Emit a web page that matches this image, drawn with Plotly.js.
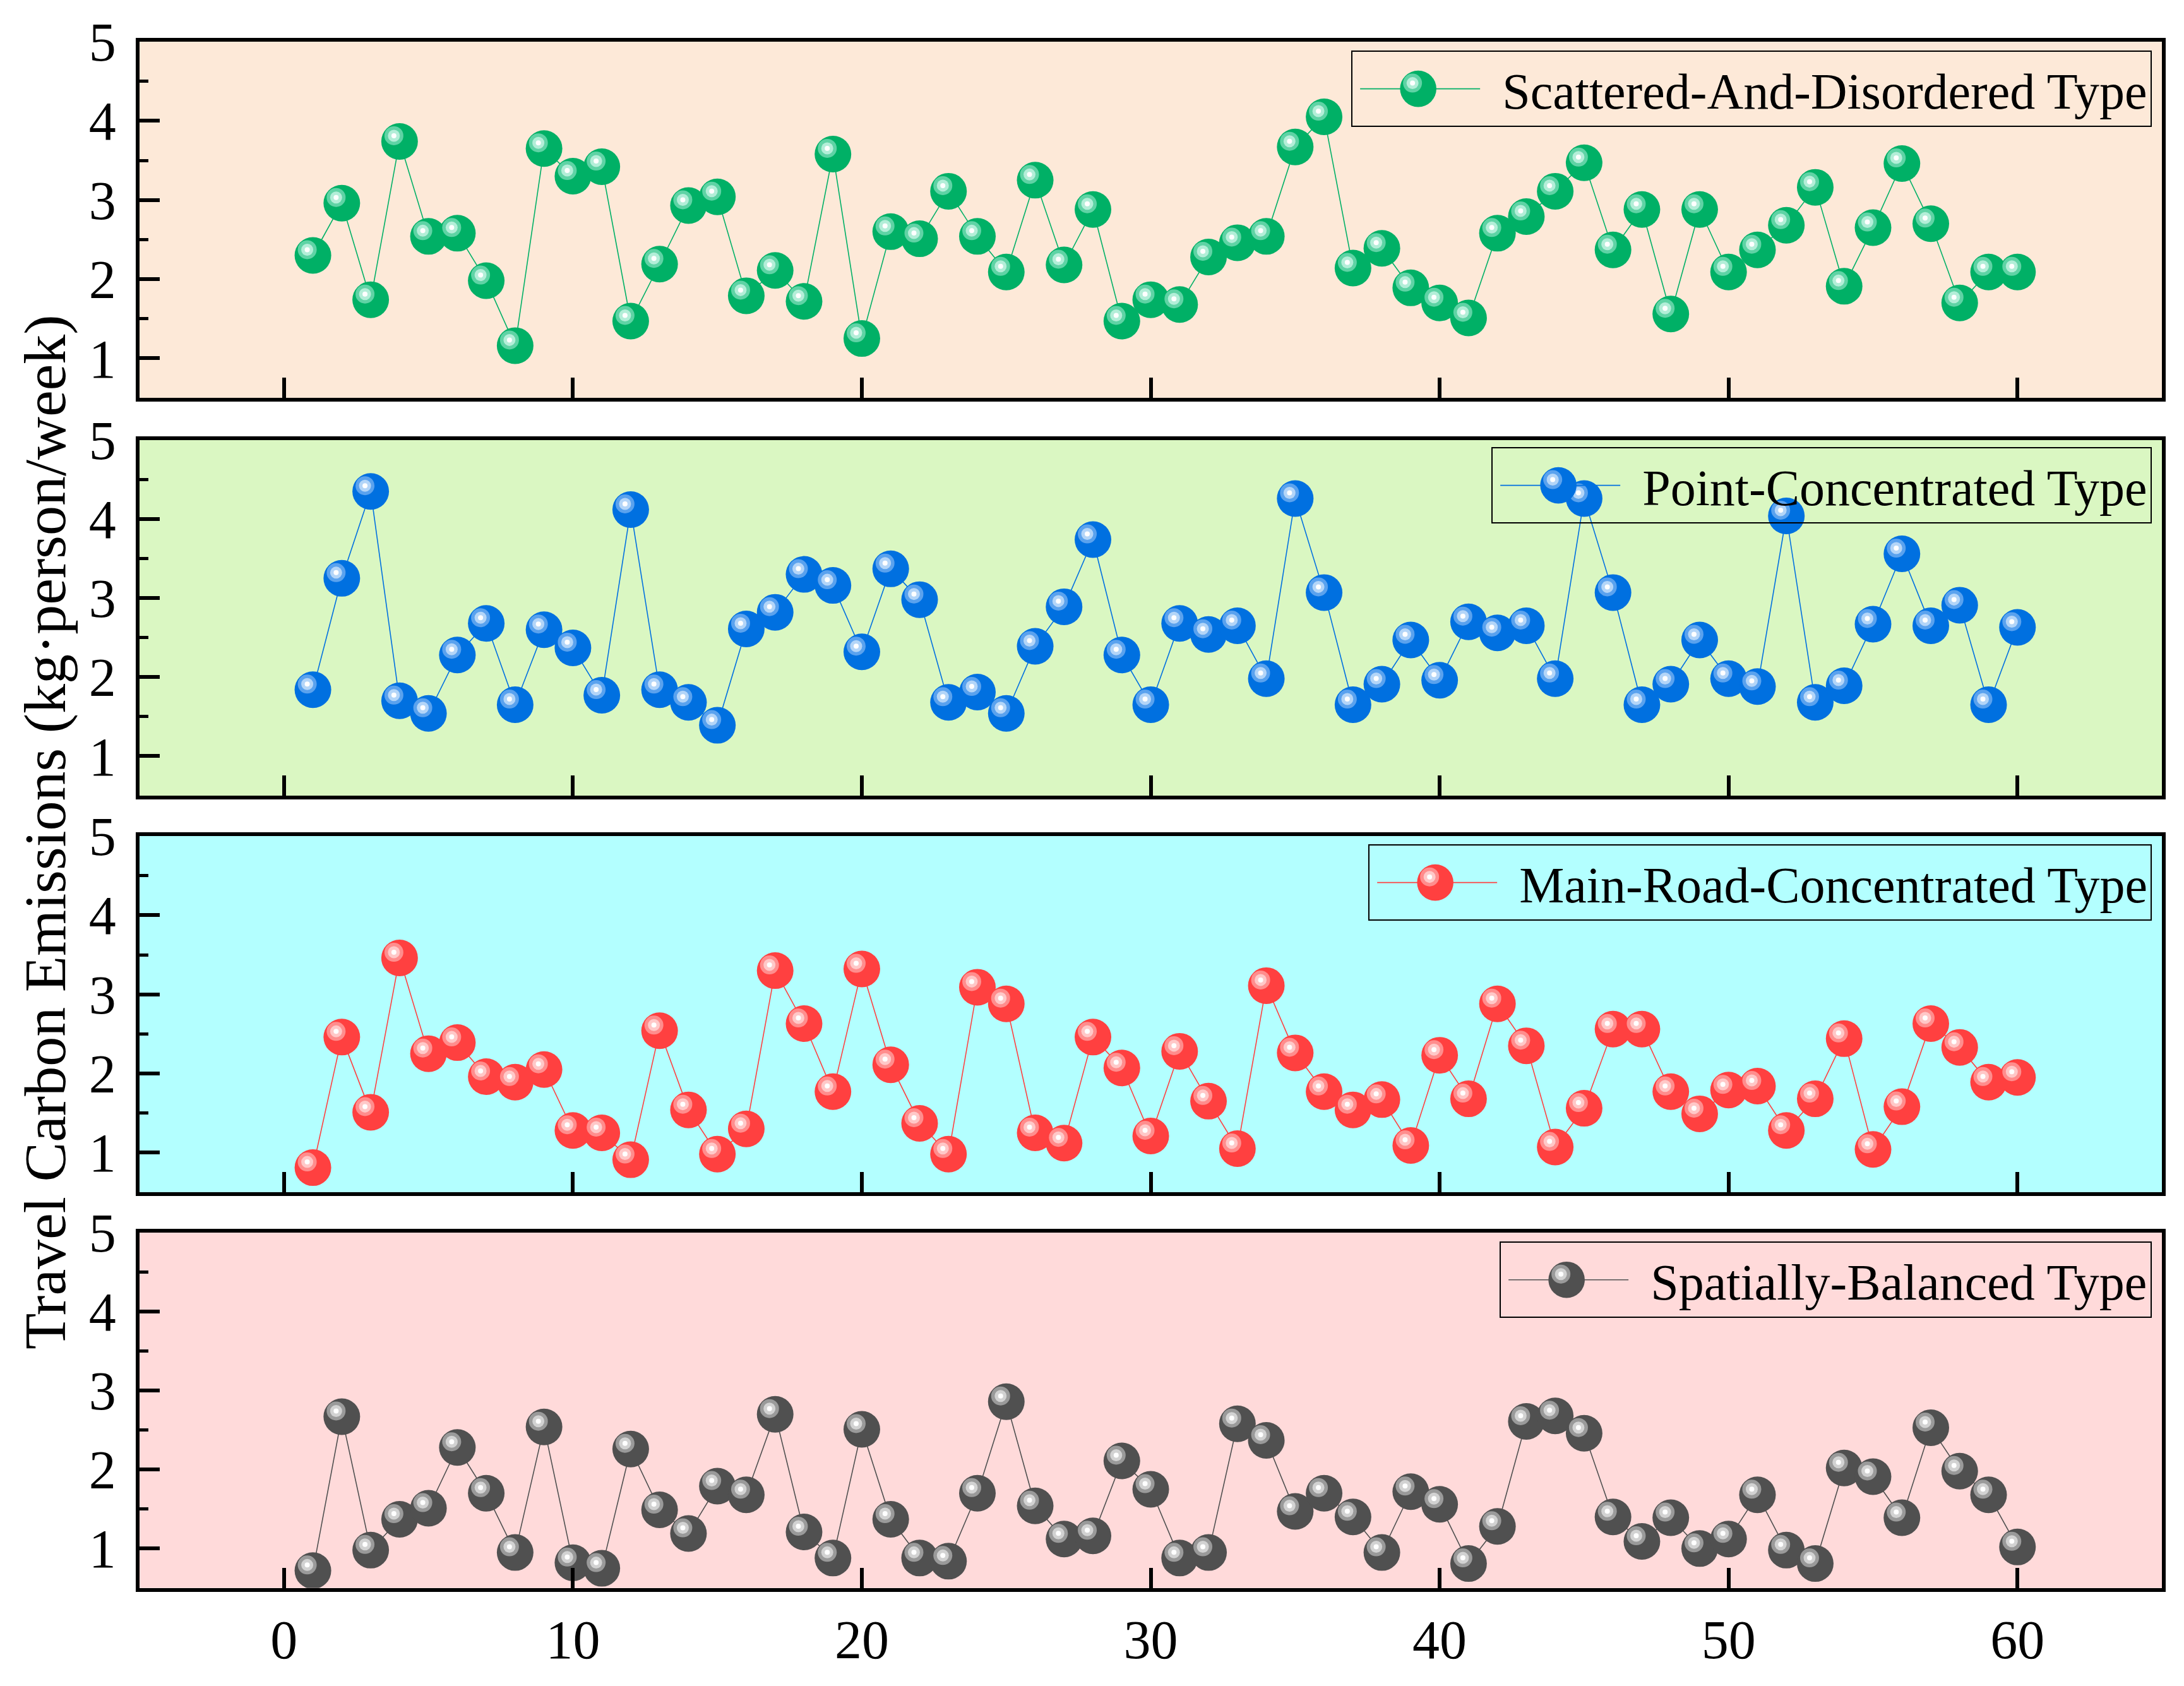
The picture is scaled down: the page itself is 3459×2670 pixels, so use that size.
<!DOCTYPE html>
<html>
<head>
<meta charset="utf-8">
<script src="https://cdn.plot.ly/plotly-3.0.1.min.js"></script>
<style>
  html, body { margin: 0; padding: 0; background: #ffffff; }
  #chart { width: 3459px; height: 2670px; }
</style>
</head>
<body>
<div id="chart"></div>
<script>
// week index
var weeks = [1,2,3,4,5,6,7,8,9,10,11,12,13,14,15,16,17,18,19,20,
             21,22,23,24,25,26,27,28,29,30,31,32,33,34,35,36,37,38,39,40,
             41,42,43,44,45,46,47,48,49,50,51,52,53,54,55,56,57,58,59,60];

var scattered = [2.30,2.96,1.74,3.74,2.54,2.58,1.98,1.16,3.65,3.30,
                 3.42,1.47,2.19,2.93,3.04,1.79,2.11,1.72,3.58,1.25,
                 2.60,2.51,3.11,2.54,2.09,3.25,2.18,2.88,1.47,1.74,
                 1.68,2.28,2.46,2.54,3.67,4.05,2.14,2.39,1.89,1.70,
                 1.51,2.58,2.79,3.11,3.47,2.37,2.88,1.56,2.88,2.09,
                 2.37,2.68,3.16,1.91,2.65,3.46,2.70,1.70,2.09,2.09];

var pointConc = [1.84,3.25,4.35,1.70,1.54,2.28,2.68,1.65,2.60,2.37,
                 1.77,4.12,1.84,1.68,1.39,2.61,2.82,3.30,3.16,2.32,
                 3.37,2.98,1.68,1.81,1.54,2.39,2.89,3.74,2.28,1.65,
                 2.68,2.54,2.65,1.98,4.26,3.07,1.65,1.91,2.47,1.96,
                 2.70,2.56,2.65,1.98,4.26,3.07,1.65,1.91,2.47,1.98,
                 1.88,4.04,1.68,1.89,2.67,3.56,2.65,2.91,1.65,2.63];

var mainRoad = [0.81,2.46,1.51,3.46,2.25,2.39,1.96,1.89,2.05,1.28,
                1.25,0.91,2.54,1.54,0.98,1.30,3.30,2.63,1.77,3.32,
                2.11,1.37,0.98,3.09,2.88,1.25,1.12,2.46,2.07,1.21,
                2.28,1.65,1.05,3.11,2.26,1.77,1.54,1.67,1.09,2.23,
                1.68,2.88,2.35,1.07,1.56,2.56,2.56,1.77,1.49,1.79,
                1.84,1.28,1.68,2.44,1.04,1.58,2.63,2.33,1.89,1.95];

var balanced = [0.72,2.67,0.98,1.37,1.51,2.28,1.70,0.95,2.54,0.82,
                0.75,2.26,1.49,1.19,1.79,1.68,2.70,1.21,0.88,2.51,
                1.37,0.88,0.84,1.70,2.86,1.54,1.12,1.16,2.11,1.75,
                0.88,0.95,2.58,2.37,1.47,1.70,1.40,0.95,1.72,1.56,
                0.81,1.28,2.61,2.68,2.46,1.40,1.09,1.39,1.00,1.12,
                1.68,0.98,0.81,2.02,1.91,1.39,2.53,1.98,1.68,1.02];

var seriesNames = ['Scattered-And-Disordered Type', 'Point-Concentrated Type',
                   'Main-Road-Concentrated Type', 'Spatially-Balanced Type'];
var seriesData = [scattered, pointConc, mainRoad, balanced];

// body, ring, inner ring
var palette = [
    ['#00b066', '#5fd3a5', '#b3eed8'],
    ['#0070e0', '#5aa2ee', '#b3d5f8'],
    ['#ff4040', '#ff8d8d', '#ffc8c8'],
    ['#505050', '#9a9a9a', '#d2d2d2']
];
var panelBg = ['#fde9d8', '#daf7c2', '#b3ffff', '#ffdada'];

var FONT = 'Liberation Serif, Times New Roman, serif';
var yDomains = [[0.7640, 0.9753], [0.5281, 0.7390], [0.2929, 0.5041], [0.0581, 0.2689]];
var legendTops = [0.9700, 0.7348, 0.4992, 0.2636];

var traces = [];
var layout = {
    width: 3459,
    height: 2670,
    paper_bgcolor: '#ffffff',
    plot_bgcolor: 'rgba(0,0,0,0)',
    margin: { t: 0, r: 0, b: 0, l: 0 },
    showlegend: true,
    font: { family: FONT, color: '#000000' },
    shapes: [],
    annotations: [{
        text: 'Travel Carbon Emissions (kg·person/week)',
        xref: 'paper', yref: 'paper',
        x: 0.0205, y: 0.5067,
        xanchor: 'center', yanchor: 'middle',
        textangle: -90, showarrow: false,
        font: { family: FONT, size: 94, color: '#000000' }
    }]
};

for (var i = 0; i < 4; i++) {
    var n = i + 1;
    var sfx = n === 1 ? '' : String(n);
    var xa = 'x' + sfx, ya = 'y' + sfx;
    var col = palette[i];

    traces.push({
        x: weeks, y: seriesData[i], xaxis: xa, yaxis: ya,
        type: 'scatter', mode: 'lines+markers',
        name: seriesNames[i],
        legend: 'legend' + sfx,
        line: { color: col[0], width: 1.6 },
        marker: { size: 58, color: col[0], line: { width: 0 } },
        hoverinfo: 'skip'
    });
    // highlight rings on the spheres
    [[30, col[1]], [19, col[2]], [8, '#ffffff']].forEach(function(r, k) {
        traces.push({
            x: weeks, y: seriesData[i], xaxis: xa, yaxis: ya,
            type: 'scatter', mode: 'markers',
            uid: 'hl' + n + '_' + k,
            showlegend: false, hoverinfo: 'skip',
            marker: { size: r[0], color: r[1], line: { width: 0 } }
        });
    });

    layout['xaxis' + sfx] = {
        domain: [0.0639, 0.9899], anchor: ya,
        range: [-5, 65], tick0: 0, dtick: 10,
        ticks: 'inside', ticklen: 32, tickwidth: 6, tickcolor: '#000000',
        showticklabels: n === 4, ticklabelstandoff: 2,
        tickfont: { family: FONT, size: 86, color: '#000000' },
        showline: true, linewidth: 6, linecolor: '#000000', mirror: true,
        showgrid: false, zeroline: false
    };
    layout['yaxis' + sfx] = {
        domain: yDomains[i], anchor: xa,
        range: [0.5, 5], tick0: 0, dtick: 1,
        ticks: 'inside', ticklen: 32, tickwidth: 6, tickcolor: '#000000',
        minor: { dtick: 0.5, ticks: 'inside', ticklen: 14, tickwidth: 5, tickcolor: '#000000', showgrid: false },
        ticklabelstandoff: 14,
        tickfont: { family: FONT, size: 86, color: '#000000' },
        showline: true, linewidth: 6, linecolor: '#000000', mirror: true,
        showgrid: false, zeroline: false
    };
    layout.shapes.push({
        type: 'rect', xref: xa + ' domain', yref: ya + ' domain',
        x0: 0, x1: 1, y0: 0, y1: 1,
        fillcolor: panelBg[i], line: { width: 0 }, layer: 'below'
    });
    layout['legend' + sfx] = {
        x: 0.9853, xanchor: 'right', y: legendTops[i], yanchor: 'top',
        bgcolor: 'rgba(0,0,0,0)', bordercolor: '#000000', borderwidth: 2,
        itemwidth: 227, itemsizing: 'trace',
        font: { family: FONT, size: 80, color: '#000000' }
    };
}

var SVGNS = 'http://www.w3.org/2000/svg';

function dressChart(gd) {
    // shift highlight rings up-left like a lit sphere
    gd.querySelectorAll('.scatterlayer .trace').forEach(function(g) {
        var cls = g.getAttribute('class') || '';
        if (cls.indexOf('tracehl') >= 0) g.setAttribute('transform', 'translate(-9,-9)');
    });
    // bigger sphere symbols in the legends
    for (var i = 0; i < 4; i++) {
        var id = i === 0 ? 'legend' : 'legend' + (i + 1);
        var lg = gd.querySelector('g.' + id);
        if (!lg) continue;
        var line = lg.querySelector('.legendlines path');
        if (line) line.setAttribute('d', 'M12,0h190');
        var pts = lg.querySelector('.legendpoints');
        var pt = lg.querySelector('.legendpoints path.scatterpts');
        if (pt) pt.setAttribute('transform', 'translate(104,0) scale(3.6)');
        if (pts) {
            [[15, palette[i][1]], [9.5, palette[i][2]], [4, '#ffffff']].forEach(function(r) {
                var c = document.createElementNS(SVGNS, 'circle');
                c.setAttribute('cx', 95); c.setAttribute('cy', -9);
                c.setAttribute('r', r[0]); c.setAttribute('fill', r[1]);
                pts.appendChild(c);
            });
        }
    }
}

Plotly.newPlot('chart', traces, layout, { displayModeBar: false, responsive: false }).then(dressChart);
</script>
</body>
</html>
